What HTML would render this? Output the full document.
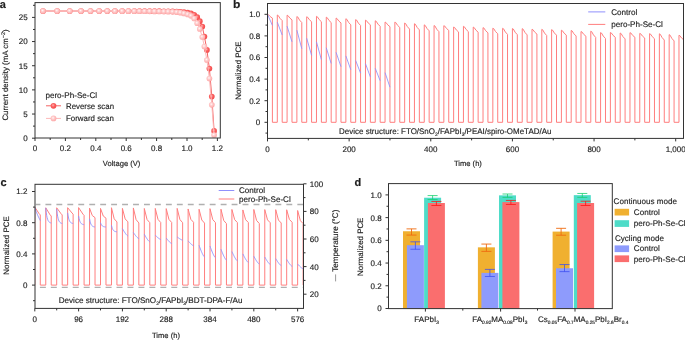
<!DOCTYPE html>
<html><head><meta charset="utf-8"><style>
html,body{margin:0;padding:0;background:#fff;width:685px;height:340px;overflow:hidden}
svg{display:block;will-change:transform}
svg text{font-family:"Liberation Sans",sans-serif;text-rendering:geometricPrecision;stroke:#1e1e1e;stroke-width:0.15px}
</style></head><body>
<svg width="685" height="340" viewBox="0 0 685 340">
<rect x="0" y="0" width="685" height="340" fill="#fff"/>
<line x1="32.00" y1="138.20" x2="35.00" y2="138.20" stroke="#333" stroke-width="1.0" />
<text x="27.60" y="141.10" font-size="8.0" text-anchor="end" fill="#1e1e1e" font-weight="normal" >0</text>
<line x1="32.00" y1="114.04" x2="35.00" y2="114.04" stroke="#333" stroke-width="1.0" />
<text x="27.60" y="116.94" font-size="8.0" text-anchor="end" fill="#1e1e1e" font-weight="normal" >5</text>
<line x1="32.00" y1="89.88" x2="35.00" y2="89.88" stroke="#333" stroke-width="1.0" />
<text x="27.60" y="92.78" font-size="8.0" text-anchor="end" fill="#1e1e1e" font-weight="normal" >10</text>
<line x1="32.00" y1="65.72" x2="35.00" y2="65.72" stroke="#333" stroke-width="1.0" />
<text x="27.60" y="68.62" font-size="8.0" text-anchor="end" fill="#1e1e1e" font-weight="normal" >15</text>
<line x1="32.00" y1="41.56" x2="35.00" y2="41.56" stroke="#333" stroke-width="1.0" />
<text x="27.60" y="44.46" font-size="8.0" text-anchor="end" fill="#1e1e1e" font-weight="normal" >20</text>
<line x1="32.00" y1="17.40" x2="35.00" y2="17.40" stroke="#333" stroke-width="1.0" />
<text x="27.60" y="20.30" font-size="8.0" text-anchor="end" fill="#1e1e1e" font-weight="normal" >25</text>
<line x1="33.00" y1="126.12" x2="35.00" y2="126.12" stroke="#333" stroke-width="1.0" />
<line x1="33.00" y1="101.96" x2="35.00" y2="101.96" stroke="#333" stroke-width="1.0" />
<line x1="33.00" y1="77.80" x2="35.00" y2="77.80" stroke="#333" stroke-width="1.0" />
<line x1="33.00" y1="53.64" x2="35.00" y2="53.64" stroke="#333" stroke-width="1.0" />
<line x1="33.00" y1="29.48" x2="35.00" y2="29.48" stroke="#333" stroke-width="1.0" />
<line x1="33.00" y1="5.32" x2="35.00" y2="5.32" stroke="#333" stroke-width="1.0" />
<line x1="35.00" y1="138.00" x2="35.00" y2="141.00" stroke="#333" stroke-width="1.0" />
<text x="35.00" y="150.90" font-size="8.0" text-anchor="middle" fill="#1e1e1e" font-weight="normal" >0</text>
<line x1="65.40" y1="138.00" x2="65.40" y2="141.00" stroke="#333" stroke-width="1.0" />
<text x="65.40" y="150.90" font-size="8.0" text-anchor="middle" fill="#1e1e1e" font-weight="normal" >0.2</text>
<line x1="95.80" y1="138.00" x2="95.80" y2="141.00" stroke="#333" stroke-width="1.0" />
<text x="95.80" y="150.90" font-size="8.0" text-anchor="middle" fill="#1e1e1e" font-weight="normal" >0.4</text>
<line x1="126.20" y1="138.00" x2="126.20" y2="141.00" stroke="#333" stroke-width="1.0" />
<text x="126.20" y="150.90" font-size="8.0" text-anchor="middle" fill="#1e1e1e" font-weight="normal" >0.6</text>
<line x1="156.60" y1="138.00" x2="156.60" y2="141.00" stroke="#333" stroke-width="1.0" />
<text x="156.60" y="150.90" font-size="8.0" text-anchor="middle" fill="#1e1e1e" font-weight="normal" >0.8</text>
<line x1="187.00" y1="138.00" x2="187.00" y2="141.00" stroke="#333" stroke-width="1.0" />
<text x="187.00" y="150.90" font-size="8.0" text-anchor="middle" fill="#1e1e1e" font-weight="normal" >1.0</text>
<line x1="217.40" y1="138.00" x2="217.40" y2="141.00" stroke="#333" stroke-width="1.0" />
<text x="217.40" y="150.90" font-size="8.0" text-anchor="middle" fill="#1e1e1e" font-weight="normal" >1.2</text>
<line x1="50.20" y1="138.00" x2="50.20" y2="140.00" stroke="#333" stroke-width="1.0" />
<line x1="80.60" y1="138.00" x2="80.60" y2="140.00" stroke="#333" stroke-width="1.0" />
<line x1="111.00" y1="138.00" x2="111.00" y2="140.00" stroke="#333" stroke-width="1.0" />
<line x1="141.40" y1="138.00" x2="141.40" y2="140.00" stroke="#333" stroke-width="1.0" />
<line x1="171.80" y1="138.00" x2="171.80" y2="140.00" stroke="#333" stroke-width="1.0" />
<line x1="202.20" y1="138.00" x2="202.20" y2="140.00" stroke="#333" stroke-width="1.0" />
<text x="121.60" y="165.90" font-size="7.6" text-anchor="middle" fill="#1e1e1e" font-weight="normal" >Voltage (V)</text>
<text transform="translate(7.90 75.00) rotate(-90) scale(1.000 1)" font-size="7.9" text-anchor="middle" fill="#1e1e1e">Current density (mA cm<tspan font-size="5.4" dy="-2.8">−2</tspan><tspan dy="2.8">)</tspan></text>
<defs><radialGradient id="gR" cx="0.42" cy="0.4" r="0.62"><stop offset="0" stop-color="#ffb4b4"/><stop offset="0.45" stop-color="#fb6262"/><stop offset="1" stop-color="#f24a4a"/></radialGradient><radialGradient id="gF" cx="0.42" cy="0.4" r="0.62"><stop offset="0" stop-color="#fff8f8"/><stop offset="0.4" stop-color="#ffcccc"/><stop offset="1" stop-color="#fda6a6"/></radialGradient></defs>
<polyline points="43.00,11.01 57.20,11.02 69.70,11.03 81.00,11.04 90.50,11.04 99.20,11.05 107.30,11.06 114.90,11.07 122.20,11.08 128.40,11.09 134.30,11.10 139.50,11.11 144.60,11.12 149.70,11.14 154.50,11.16 159.20,11.19 163.90,11.23 168.20,11.26 172.60,11.32 176.70,11.49 180.40,11.73 184.00,12.08 187.70,12.62 191.00,13.40 194.20,14.80 197.20,17.20 199.80,21.20 202.30,26.50 204.40,36.50 206.90,49.90 209.40,68.50 211.80,96.60 214.10,130.90" fill="none" stroke="#f46464" stroke-width="1.0" stroke-linejoin="round" />
<circle cx="43.00" cy="11.01" r="2.85" fill="url(#gR)"/>
<circle cx="57.20" cy="11.02" r="2.85" fill="url(#gR)"/>
<circle cx="69.70" cy="11.03" r="2.85" fill="url(#gR)"/>
<circle cx="81.00" cy="11.04" r="2.85" fill="url(#gR)"/>
<circle cx="90.50" cy="11.04" r="2.85" fill="url(#gR)"/>
<circle cx="99.20" cy="11.05" r="2.85" fill="url(#gR)"/>
<circle cx="107.30" cy="11.06" r="2.85" fill="url(#gR)"/>
<circle cx="114.90" cy="11.07" r="2.85" fill="url(#gR)"/>
<circle cx="122.20" cy="11.08" r="2.85" fill="url(#gR)"/>
<circle cx="128.40" cy="11.09" r="2.85" fill="url(#gR)"/>
<circle cx="134.30" cy="11.10" r="2.85" fill="url(#gR)"/>
<circle cx="139.50" cy="11.11" r="2.85" fill="url(#gR)"/>
<circle cx="144.60" cy="11.12" r="2.85" fill="url(#gR)"/>
<circle cx="149.70" cy="11.14" r="2.85" fill="url(#gR)"/>
<circle cx="154.50" cy="11.16" r="2.85" fill="url(#gR)"/>
<circle cx="159.20" cy="11.19" r="2.85" fill="url(#gR)"/>
<circle cx="163.90" cy="11.23" r="2.85" fill="url(#gR)"/>
<circle cx="168.20" cy="11.26" r="2.85" fill="url(#gR)"/>
<circle cx="172.60" cy="11.32" r="2.85" fill="url(#gR)"/>
<circle cx="176.70" cy="11.49" r="2.85" fill="url(#gR)"/>
<circle cx="180.40" cy="11.73" r="2.85" fill="url(#gR)"/>
<circle cx="184.00" cy="12.08" r="2.85" fill="url(#gR)"/>
<circle cx="187.70" cy="12.62" r="2.85" fill="url(#gR)"/>
<circle cx="191.00" cy="13.40" r="2.85" fill="url(#gR)"/>
<circle cx="194.20" cy="14.80" r="2.85" fill="url(#gR)"/>
<circle cx="197.20" cy="17.20" r="2.85" fill="url(#gR)"/>
<circle cx="199.80" cy="21.20" r="2.85" fill="url(#gR)"/>
<circle cx="202.30" cy="26.50" r="2.85" fill="url(#gR)"/>
<circle cx="204.40" cy="36.50" r="2.85" fill="url(#gR)"/>
<circle cx="206.90" cy="49.90" r="2.85" fill="url(#gR)"/>
<circle cx="209.40" cy="68.50" r="2.85" fill="url(#gR)"/>
<circle cx="211.80" cy="96.60" r="2.85" fill="url(#gR)"/>
<circle cx="214.10" cy="130.90" r="2.85" fill="url(#gR)"/>
<polyline points="43.00,11.01 57.20,11.04 69.70,11.05 81.00,11.07 90.50,11.08 99.20,11.10 107.30,11.12 114.90,11.14 122.20,11.16 128.40,11.18 134.30,11.20 139.50,11.23 144.60,11.27 149.70,11.33 154.50,11.39 159.20,11.48 163.90,11.58 168.20,11.70 172.60,11.85 176.70,12.21 180.40,12.69 184.00,13.40 187.70,14.41 191.00,15.80 194.20,18.50 197.20,23.20 199.80,29.00 202.30,37.00 204.40,46.50 206.90,60.00 209.40,78.50 211.80,104.80 214.10,135.00" fill="none" stroke="#fdb8b8" stroke-width="1.0" stroke-linejoin="round" />
<circle cx="43.00" cy="11.01" r="2.85" fill="url(#gF)"/>
<circle cx="57.20" cy="11.04" r="2.85" fill="url(#gF)"/>
<circle cx="69.70" cy="11.05" r="2.85" fill="url(#gF)"/>
<circle cx="81.00" cy="11.07" r="2.85" fill="url(#gF)"/>
<circle cx="90.50" cy="11.08" r="2.85" fill="url(#gF)"/>
<circle cx="99.20" cy="11.10" r="2.85" fill="url(#gF)"/>
<circle cx="107.30" cy="11.12" r="2.85" fill="url(#gF)"/>
<circle cx="114.90" cy="11.14" r="2.85" fill="url(#gF)"/>
<circle cx="122.20" cy="11.16" r="2.85" fill="url(#gF)"/>
<circle cx="128.40" cy="11.18" r="2.85" fill="url(#gF)"/>
<circle cx="134.30" cy="11.20" r="2.85" fill="url(#gF)"/>
<circle cx="139.50" cy="11.23" r="2.85" fill="url(#gF)"/>
<circle cx="144.60" cy="11.27" r="2.85" fill="url(#gF)"/>
<circle cx="149.70" cy="11.33" r="2.85" fill="url(#gF)"/>
<circle cx="154.50" cy="11.39" r="2.85" fill="url(#gF)"/>
<circle cx="159.20" cy="11.48" r="2.85" fill="url(#gF)"/>
<circle cx="163.90" cy="11.58" r="2.85" fill="url(#gF)"/>
<circle cx="168.20" cy="11.70" r="2.85" fill="url(#gF)"/>
<circle cx="172.60" cy="11.85" r="2.85" fill="url(#gF)"/>
<circle cx="176.70" cy="12.21" r="2.85" fill="url(#gF)"/>
<circle cx="180.40" cy="12.69" r="2.85" fill="url(#gF)"/>
<circle cx="184.00" cy="13.40" r="2.85" fill="url(#gF)"/>
<circle cx="187.70" cy="14.41" r="2.85" fill="url(#gF)"/>
<circle cx="191.00" cy="15.80" r="2.85" fill="url(#gF)"/>
<circle cx="194.20" cy="18.50" r="2.85" fill="url(#gF)"/>
<circle cx="197.20" cy="23.20" r="2.85" fill="url(#gF)"/>
<circle cx="199.80" cy="29.00" r="2.85" fill="url(#gF)"/>
<circle cx="202.30" cy="37.00" r="2.85" fill="url(#gF)"/>
<circle cx="204.40" cy="46.50" r="2.85" fill="url(#gF)"/>
<circle cx="206.90" cy="60.00" r="2.85" fill="url(#gF)"/>
<circle cx="209.40" cy="78.50" r="2.85" fill="url(#gF)"/>
<circle cx="211.80" cy="104.80" r="2.85" fill="url(#gF)"/>
<circle cx="214.10" cy="135.00" r="2.85" fill="url(#gF)"/>
<rect x="35.00" y="2.60" width="185.30" height="135.40" fill="none" stroke="#333" stroke-width="1.0"/>
<text x="45.40" y="98.00" font-size="8.1" text-anchor="start" fill="#1e1e1e" font-weight="normal" >pero-Ph-Se-Cl</text>
<line x1="46.00" y1="105.80" x2="61.00" y2="105.80" stroke="#f46464" stroke-width="1.0" />
<circle cx="53.5" cy="105.8" r="2.85" fill="url(#gR)"/>
<text transform="translate(66.00 108.70) scale(0.970 1)" font-size="8.1" text-anchor="start" fill="#1e1e1e" font-weight="normal" >Reverse scan</text>
<line x1="46.00" y1="118.40" x2="61.00" y2="118.40" stroke="#fdb8b8" stroke-width="1.0" />
<circle cx="53.5" cy="118.4" r="2.85" fill="url(#gF)"/>
<text transform="translate(66.00 121.30) scale(0.975 1)" font-size="8.1" text-anchor="start" fill="#1e1e1e" font-weight="normal" >Forward scan</text>
<text x="-0.20" y="7.70" font-size="11" text-anchor="start" fill="#1e1e1e" font-weight="bold" stroke="#111" stroke-width="0.5">a</text>
<line x1="264.50" y1="122.30" x2="267.50" y2="122.30" stroke="#333" stroke-width="1.0" />
<text x="260.30" y="125.20" font-size="8.0" text-anchor="end" fill="#1e1e1e" font-weight="normal" >0</text>
<line x1="264.50" y1="100.70" x2="267.50" y2="100.70" stroke="#333" stroke-width="1.0" />
<text x="260.30" y="103.60" font-size="8.0" text-anchor="end" fill="#1e1e1e" font-weight="normal" >0.2</text>
<line x1="264.50" y1="79.10" x2="267.50" y2="79.10" stroke="#333" stroke-width="1.0" />
<text x="260.30" y="82.00" font-size="8.0" text-anchor="end" fill="#1e1e1e" font-weight="normal" >0.4</text>
<line x1="264.50" y1="57.50" x2="267.50" y2="57.50" stroke="#333" stroke-width="1.0" />
<text x="260.30" y="60.40" font-size="8.0" text-anchor="end" fill="#1e1e1e" font-weight="normal" >0.6</text>
<line x1="264.50" y1="35.90" x2="267.50" y2="35.90" stroke="#333" stroke-width="1.0" />
<text x="260.30" y="38.80" font-size="8.0" text-anchor="end" fill="#1e1e1e" font-weight="normal" >0.8</text>
<line x1="264.50" y1="14.30" x2="267.50" y2="14.30" stroke="#333" stroke-width="1.0" />
<text x="260.30" y="17.20" font-size="8.0" text-anchor="end" fill="#1e1e1e" font-weight="normal" >1.0</text>
<line x1="265.50" y1="133.10" x2="267.50" y2="133.10" stroke="#333" stroke-width="1.0" />
<line x1="265.50" y1="111.50" x2="267.50" y2="111.50" stroke="#333" stroke-width="1.0" />
<line x1="265.50" y1="89.90" x2="267.50" y2="89.90" stroke="#333" stroke-width="1.0" />
<line x1="265.50" y1="68.30" x2="267.50" y2="68.30" stroke="#333" stroke-width="1.0" />
<line x1="265.50" y1="46.70" x2="267.50" y2="46.70" stroke="#333" stroke-width="1.0" />
<line x1="265.50" y1="25.10" x2="267.50" y2="25.10" stroke="#333" stroke-width="1.0" />
<line x1="267.50" y1="138.40" x2="267.50" y2="141.40" stroke="#333" stroke-width="1.0" />
<text x="267.50" y="152.40" font-size="8.0" text-anchor="middle" fill="#1e1e1e" font-weight="normal" >0</text>
<line x1="349.14" y1="138.40" x2="349.14" y2="141.40" stroke="#333" stroke-width="1.0" />
<text x="349.14" y="152.40" font-size="8.0" text-anchor="middle" fill="#1e1e1e" font-weight="normal" >200</text>
<line x1="430.78" y1="138.40" x2="430.78" y2="141.40" stroke="#333" stroke-width="1.0" />
<text x="430.78" y="152.40" font-size="8.0" text-anchor="middle" fill="#1e1e1e" font-weight="normal" >400</text>
<line x1="512.42" y1="138.40" x2="512.42" y2="141.40" stroke="#333" stroke-width="1.0" />
<text x="512.42" y="152.40" font-size="8.0" text-anchor="middle" fill="#1e1e1e" font-weight="normal" >600</text>
<line x1="594.06" y1="138.40" x2="594.06" y2="141.40" stroke="#333" stroke-width="1.0" />
<text x="594.06" y="152.40" font-size="8.0" text-anchor="middle" fill="#1e1e1e" font-weight="normal" >800</text>
<line x1="675.70" y1="138.40" x2="675.70" y2="141.40" stroke="#333" stroke-width="1.0" />
<text x="675.70" y="152.40" font-size="8.0" text-anchor="middle" fill="#1e1e1e" font-weight="normal" >1,000</text>
<line x1="308.32" y1="138.40" x2="308.32" y2="140.40" stroke="#333" stroke-width="1.0" />
<line x1="389.96" y1="138.40" x2="389.96" y2="140.40" stroke="#333" stroke-width="1.0" />
<line x1="471.60" y1="138.40" x2="471.60" y2="140.40" stroke="#333" stroke-width="1.0" />
<line x1="553.24" y1="138.40" x2="553.24" y2="140.40" stroke="#333" stroke-width="1.0" />
<line x1="634.88" y1="138.40" x2="634.88" y2="140.40" stroke="#333" stroke-width="1.0" />
<text x="467.90" y="166.30" font-size="7.6" text-anchor="middle" fill="#1e1e1e" font-weight="normal" >Time (h)</text>
<text transform="translate(241.00 70.60) rotate(-90) scale(1.000 1)" font-size="7.9" text-anchor="middle" fill="#1e1e1e">Normalized PCE</text>
<clipPath id="cb"><rect x="267.5" y="3.5" width="416.0" height="134.9"/></clipPath>
<polyline points="267.50,122.30 267.50,14.30 268.38,14.60 270.19,16.57 272.40,18.08 272.40,122.30 277.30,122.30 277.30,122.30 277.30,15.01 278.18,15.45 279.99,18.36 282.20,20.59 282.20,122.30 287.09,122.30 287.09,122.30 287.09,15.22 287.98,15.59 289.79,18.01 291.99,19.87 291.99,122.30 296.89,122.30 296.89,122.30 296.89,16.55 297.77,17.03 299.58,20.14 301.79,22.53 301.79,122.30 306.69,122.30 306.69,122.30 306.69,16.77 307.57,17.17 309.38,19.74 311.59,21.71 311.59,122.30 316.48,122.30 316.48,122.30 316.48,16.36 317.37,16.79 319.18,19.57 321.38,21.71 321.38,122.30 326.28,122.30 326.28,122.30 326.28,17.21 327.16,17.64 328.97,20.43 331.18,22.57 331.18,122.30 336.08,122.30 336.08,122.30 336.08,18.12 336.96,18.50 338.77,20.99 340.98,22.91 340.98,122.30 345.87,122.30 345.87,122.30 345.87,18.77 346.76,19.25 348.57,22.39 350.77,24.81 350.77,122.30 355.67,122.30 355.67,122.30 355.67,19.62 356.55,20.09 358.37,23.11 360.57,25.44 360.57,122.30 365.47,122.30 365.47,122.30 365.47,20.17 366.35,20.54 368.16,22.95 370.37,24.81 370.37,122.30 375.26,122.30 375.26,122.30 375.26,20.79 376.15,21.23 377.96,24.12 380.16,26.35 380.16,122.30 385.06,122.30 385.06,122.30 385.06,22.12 385.94,22.48 387.76,24.87 389.96,26.71 389.96,122.30 394.86,122.30 394.86,122.30 394.86,22.11 395.74,22.53 397.55,25.32 399.76,27.46 399.76,122.30 404.66,122.30 404.66,122.30 404.66,23.02 405.54,23.50 407.35,26.65 409.55,29.07 409.55,122.30 414.45,122.30 414.45,122.30 414.45,23.74 415.33,24.23 417.15,27.42 419.35,29.87 419.35,122.30 424.25,122.30 424.25,122.30 424.25,24.88 425.13,25.35 426.94,28.43 429.15,30.80 429.15,122.30 434.05,122.30 434.05,122.30 434.05,25.53 434.93,26.02 436.74,29.22 438.94,31.68 438.94,122.30 443.84,122.30 443.84,122.30 443.84,25.69 444.72,26.07 446.54,28.51 448.74,30.39 448.74,122.30 453.64,122.30 453.64,122.30 453.64,27.02 454.52,27.41 456.33,29.97 458.54,31.93 458.54,122.30 463.44,122.30 463.44,122.30 463.44,26.32 464.32,26.74 466.13,29.49 468.33,31.61 468.33,122.30 473.23,122.30 473.23,122.30 473.23,27.13 474.11,27.53 475.93,30.16 478.13,32.18 478.13,122.30 483.03,122.30 483.03,122.30 483.03,27.65 483.91,28.07 485.72,30.77 487.93,32.85 487.93,122.30 492.83,122.30 492.83,122.30 492.83,28.22 493.71,28.67 495.52,31.55 497.72,33.77 497.72,122.30 502.62,122.30 502.62,122.30 502.62,28.29 503.50,28.78 505.32,31.95 507.52,34.39 507.52,122.30 512.42,122.30 512.42,122.30 512.42,28.54 513.30,29.03 515.11,32.22 517.32,34.68 517.32,122.30 522.22,122.30 522.22,122.30 522.22,28.66 523.10,29.16 524.91,32.40 527.12,34.90 527.12,122.30 532.01,122.30 532.01,122.30 532.01,29.24 532.90,29.63 534.71,32.13 536.91,34.06 536.91,122.30 541.81,122.30 541.81,122.30 541.81,29.34 542.69,29.84 544.50,33.06 546.71,35.54 546.71,122.30 551.61,122.30 551.61,122.30 551.61,29.63 552.49,30.07 554.30,32.94 556.51,35.15 556.51,122.30 561.40,122.30 561.40,122.30 561.40,30.22 562.29,30.61 564.10,33.16 566.30,35.12 566.30,122.30 571.20,122.30 571.20,122.30 571.20,30.45 572.08,30.89 573.89,33.76 576.10,35.98 576.10,122.30 581.00,122.30 581.00,122.30 581.00,31.53 581.88,31.91 583.69,34.32 585.90,36.18 585.90,122.30 590.79,122.30 590.79,122.30 590.79,31.18 591.68,31.68 593.49,34.92 595.69,37.42 595.69,122.30 600.59,122.30 600.59,122.30 600.59,32.55 601.47,33.02 603.29,36.10 605.49,38.46 605.49,122.30 610.39,122.30 610.39,122.30 610.39,32.51 611.27,32.89 613.08,35.38 615.29,37.30 615.29,122.30 620.18,122.30 620.18,122.30 620.18,33.04 621.07,33.50 622.88,36.55 625.08,38.90 625.08,122.30 629.98,122.30 629.98,122.30 629.98,32.66 630.86,33.03 632.68,35.43 634.88,37.28 634.88,122.30 639.78,122.30 639.78,122.30 639.78,33.38 640.66,33.74 642.47,36.14 644.68,37.99 644.68,122.30 649.58,122.30 649.58,122.30 649.58,33.62 650.46,34.03 652.27,36.68 654.47,38.73 654.47,122.30 659.37,122.30 659.37,122.30 659.37,33.79 660.25,34.28 662.07,37.52 664.27,40.02 664.27,122.30 669.17,122.30 669.17,122.30 669.17,34.65 670.05,35.15 671.86,38.41 674.07,40.91 674.07,122.30 678.97,122.30 678.97,122.30 678.97,35.28 679.85,35.66 681.66,38.08 683.86,39.95" fill="none" stroke="#ff7e7e" stroke-width="1.0" stroke-linejoin="round" clip-path="url(#cb)"/>
<polyline points="267.50,14.30 272.40,25.42" fill="none" stroke="#9090fc" stroke-width="0.85" stroke-linejoin="round" />
<polyline points="277.30,22.18 282.20,35.04" fill="none" stroke="#9090fc" stroke-width="0.85" stroke-linejoin="round" />
<polyline points="287.09,26.18 291.99,41.84" fill="none" stroke="#9090fc" stroke-width="0.85" stroke-linejoin="round" />
<polyline points="296.89,30.18 301.79,48.75" fill="none" stroke="#9090fc" stroke-width="0.85" stroke-linejoin="round" />
<polyline points="306.69,38.17 311.59,55.45" fill="none" stroke="#9090fc" stroke-width="0.85" stroke-linejoin="round" />
<polyline points="316.48,41.84 321.38,59.66" fill="none" stroke="#9090fc" stroke-width="0.85" stroke-linejoin="round" />
<polyline points="326.28,47.78 331.18,63.44" fill="none" stroke="#9090fc" stroke-width="0.85" stroke-linejoin="round" />
<polyline points="336.08,52.32 340.98,66.68" fill="none" stroke="#9090fc" stroke-width="0.85" stroke-linejoin="round" />
<polyline points="345.87,55.88 350.77,69.70" fill="none" stroke="#9090fc" stroke-width="0.85" stroke-linejoin="round" />
<polyline points="355.67,60.52 360.57,73.16" fill="none" stroke="#9090fc" stroke-width="0.85" stroke-linejoin="round" />
<polyline points="365.47,63.66 370.37,76.94" fill="none" stroke="#9090fc" stroke-width="0.85" stroke-linejoin="round" />
<polyline points="375.26,68.30 380.16,80.72" fill="none" stroke="#9090fc" stroke-width="0.85" stroke-linejoin="round" />
<polyline points="385.06,72.62 389.96,87.20" fill="none" stroke="#9090fc" stroke-width="0.85" stroke-linejoin="round" />
<rect x="267.50" y="3.50" width="416.00" height="134.90" fill="none" stroke="#333" stroke-width="1.0"/>
<line x1="588.20" y1="11.90" x2="605.30" y2="11.90" stroke="#9090fc" stroke-width="1.0" />
<text x="611.20" y="14.80" font-size="8.1" text-anchor="start" fill="#1e1e1e" font-weight="normal" >Control</text>
<line x1="588.20" y1="24.40" x2="605.30" y2="24.40" stroke="#ff7e7e" stroke-width="1.0" />
<text x="611.20" y="27.30" font-size="8.1" text-anchor="start" fill="#1e1e1e" font-weight="normal" >pero-Ph-Se-Cl</text>
<text transform="translate(339.10 134.30) scale(0.984 1)" font-size="8.1" text-anchor="start" fill="#1e1e1e" font-weight="normal" >Device structure: FTO/SnO<tspan font-size="5" dy="1.7">2</tspan><tspan dy="-1.7">/FAPbI</tspan><tspan font-size="5" dy="1.7">3</tspan><tspan dy="-1.7">/PEAI/spiro-OMeTAD/Au</tspan></text>
<text x="232.90" y="7.70" font-size="11" text-anchor="start" fill="#1e1e1e" font-weight="bold" transform="translate(232.9 7.7) scale(1.1 1) translate(-232.9 -7.7)" stroke="#111" stroke-width="0.5">b</text>
<line x1="32.00" y1="285.10" x2="35.00" y2="285.10" stroke="#333" stroke-width="1.0" />
<text x="27.40" y="288.00" font-size="8.0" text-anchor="end" fill="#1e1e1e" font-weight="normal" >0</text>
<line x1="32.00" y1="253.90" x2="35.00" y2="253.90" stroke="#333" stroke-width="1.0" />
<text x="27.40" y="256.80" font-size="8.0" text-anchor="end" fill="#1e1e1e" font-weight="normal" >0.4</text>
<line x1="32.00" y1="222.70" x2="35.00" y2="222.70" stroke="#333" stroke-width="1.0" />
<text x="27.40" y="225.60" font-size="8.0" text-anchor="end" fill="#1e1e1e" font-weight="normal" >0.8</text>
<line x1="32.00" y1="191.50" x2="35.00" y2="191.50" stroke="#333" stroke-width="1.0" />
<text x="27.40" y="194.40" font-size="8.0" text-anchor="end" fill="#1e1e1e" font-weight="normal" >1.2</text>
<line x1="33.00" y1="300.70" x2="35.00" y2="300.70" stroke="#333" stroke-width="1.0" />
<line x1="33.00" y1="269.50" x2="35.00" y2="269.50" stroke="#333" stroke-width="1.0" />
<line x1="33.00" y1="238.30" x2="35.00" y2="238.30" stroke="#333" stroke-width="1.0" />
<line x1="33.00" y1="207.10" x2="35.00" y2="207.10" stroke="#333" stroke-width="1.0" />
<line x1="34.80" y1="308.40" x2="34.80" y2="311.40" stroke="#333" stroke-width="1.0" />
<text x="34.80" y="321.60" font-size="8.0" text-anchor="middle" fill="#1e1e1e" font-weight="normal" >0</text>
<line x1="78.60" y1="308.40" x2="78.60" y2="311.40" stroke="#333" stroke-width="1.0" />
<text x="78.60" y="321.60" font-size="8.0" text-anchor="middle" fill="#1e1e1e" font-weight="normal" >96</text>
<line x1="122.41" y1="308.40" x2="122.41" y2="311.40" stroke="#333" stroke-width="1.0" />
<text x="122.41" y="321.60" font-size="8.0" text-anchor="middle" fill="#1e1e1e" font-weight="normal" >192</text>
<line x1="166.21" y1="308.40" x2="166.21" y2="311.40" stroke="#333" stroke-width="1.0" />
<text x="166.21" y="321.60" font-size="8.0" text-anchor="middle" fill="#1e1e1e" font-weight="normal" >288</text>
<line x1="210.02" y1="308.40" x2="210.02" y2="311.40" stroke="#333" stroke-width="1.0" />
<text x="210.02" y="321.60" font-size="8.0" text-anchor="middle" fill="#1e1e1e" font-weight="normal" >384</text>
<line x1="253.82" y1="308.40" x2="253.82" y2="311.40" stroke="#333" stroke-width="1.0" />
<text x="253.82" y="321.60" font-size="8.0" text-anchor="middle" fill="#1e1e1e" font-weight="normal" >480</text>
<line x1="297.63" y1="308.40" x2="297.63" y2="311.40" stroke="#333" stroke-width="1.0" />
<text x="297.63" y="321.60" font-size="8.0" text-anchor="middle" fill="#1e1e1e" font-weight="normal" >576</text>
<line x1="56.70" y1="308.40" x2="56.70" y2="310.40" stroke="#333" stroke-width="1.0" />
<line x1="100.51" y1="308.40" x2="100.51" y2="310.40" stroke="#333" stroke-width="1.0" />
<line x1="144.31" y1="308.40" x2="144.31" y2="310.40" stroke="#333" stroke-width="1.0" />
<line x1="188.12" y1="308.40" x2="188.12" y2="310.40" stroke="#333" stroke-width="1.0" />
<line x1="231.92" y1="308.40" x2="231.92" y2="310.40" stroke="#333" stroke-width="1.0" />
<line x1="275.73" y1="308.40" x2="275.73" y2="310.40" stroke="#333" stroke-width="1.0" />
<line x1="303.50" y1="294.20" x2="306.50" y2="294.20" stroke="#333" stroke-width="1.0" />
<text x="309.80" y="297.10" font-size="8.0" text-anchor="start" fill="#1e1e1e" font-weight="normal" >20</text>
<line x1="303.50" y1="266.60" x2="306.50" y2="266.60" stroke="#333" stroke-width="1.0" />
<text x="309.80" y="269.50" font-size="8.0" text-anchor="start" fill="#1e1e1e" font-weight="normal" >40</text>
<line x1="303.50" y1="239.00" x2="306.50" y2="239.00" stroke="#333" stroke-width="1.0" />
<text x="309.80" y="241.90" font-size="8.0" text-anchor="start" fill="#1e1e1e" font-weight="normal" >60</text>
<line x1="303.50" y1="211.40" x2="306.50" y2="211.40" stroke="#333" stroke-width="1.0" />
<text x="309.80" y="214.30" font-size="8.0" text-anchor="start" fill="#1e1e1e" font-weight="normal" >80</text>
<line x1="303.50" y1="183.80" x2="306.50" y2="183.80" stroke="#333" stroke-width="1.0" />
<text x="309.80" y="186.70" font-size="8.0" text-anchor="start" fill="#1e1e1e" font-weight="normal" >100</text>
<line x1="303.50" y1="280.40" x2="305.50" y2="280.40" stroke="#333" stroke-width="1.0" />
<line x1="303.50" y1="252.80" x2="305.50" y2="252.80" stroke="#333" stroke-width="1.0" />
<line x1="303.50" y1="225.20" x2="305.50" y2="225.20" stroke="#333" stroke-width="1.0" />
<line x1="303.50" y1="197.60" x2="305.50" y2="197.60" stroke="#333" stroke-width="1.0" />
<text x="166.00" y="338.40" font-size="7.6" text-anchor="middle" fill="#1e1e1e" font-weight="normal" >Time (h)</text>
<text transform="translate(8.80 245.50) rotate(-90) scale(1.000 1)" font-size="7.9" text-anchor="middle" fill="#1e1e1e">Normalized PCE</text>
<text transform="translate(337.80 240.70) rotate(-90) scale(1.000 1)" font-size="8.1" text-anchor="middle" fill="#1e1e1e">Temperature (°C)</text>
<line x1="335.60" y1="274.40" x2="335.60" y2="281.40" stroke="#999" stroke-width="1.0" />
<path d="M35.80,204.50H40.38M39.88,287.30H45.85M45.45,204.50H51.33M50.83,287.30H56.80M56.40,204.50H62.28M61.78,287.30H67.75M67.35,204.50H73.23M72.73,287.30H78.70M78.30,204.50H84.18M83.68,287.30H89.66M89.26,204.50H95.13M94.63,287.30H100.61M100.21,204.50H106.08M105.58,287.30H111.56M111.16,204.50H117.03M116.53,287.30H122.51M122.11,204.50H127.99M127.49,287.30H133.46M133.06,204.50H138.94M138.44,287.30H144.41M144.01,204.50H149.89M149.39,287.30H155.36M154.96,204.50H160.84M160.34,287.30H166.31M165.91,204.50H171.79M171.29,287.30H177.27M176.87,204.50H182.74M182.24,287.30H188.22M187.82,204.50H193.69M193.19,287.30H199.17M198.77,204.50H204.64M204.14,287.30H210.12M209.72,204.50H215.59M215.09,287.30H221.07M220.67,204.50H226.55M226.05,287.30H232.02M231.62,204.50H237.50M237.00,287.30H242.97M242.57,204.50H248.45M247.95,287.30H253.92M253.52,204.50H259.40M258.90,287.30H264.88M264.48,204.50H270.35M269.85,287.30H275.83M275.43,204.50H281.30M280.80,287.30H286.78M286.38,204.50H292.25M291.75,287.30H297.73M297.33,204.50H303.20M302.70,287.30H303.50" stroke="#b0b0b0" stroke-width="1.3" fill="none"/>
<clipPath id="cc"><rect x="35.0" y="184.3" width="268.5" height="124.1"/></clipPath>
<polyline points="34.80,285.10 34.80,207.10 39.18,213.81 40.28,214.90 40.28,285.10 45.75,285.10 45.75,285.10 45.75,207.81 50.13,214.90 51.23,215.99 51.23,285.10 56.70,285.10 56.70,285.10 56.70,207.77 61.08,213.81 62.18,214.90 62.18,285.10 67.65,285.10 67.65,285.10 67.65,207.69 72.03,213.03 73.13,214.12 73.13,285.10 78.60,285.10 78.60,285.10 78.60,207.62 82.99,214.20 84.08,215.29 84.08,285.10 89.56,285.10 89.56,285.10 89.56,208.16 92.29,215.55 95.03,217.63 95.03,285.10 100.51,285.10 100.51,285.10 100.51,208.39 103.25,216.02 105.98,218.18 105.98,285.10 111.46,285.10 111.46,285.10 111.46,207.73 114.20,218.80 116.93,221.92 116.93,285.10 122.41,285.10 122.41,285.10 122.41,208.37 125.15,218.88 127.89,221.84 127.89,285.10 133.36,285.10 133.36,285.10 133.36,207.94 136.10,219.63 138.84,222.93 138.84,285.10 144.31,285.10 144.31,285.10 144.31,208.46 147.05,219.54 149.79,222.66 149.79,285.10 155.26,285.10 155.26,285.10 155.26,208.41 158.00,219.42 160.74,222.52 160.74,285.10 166.21,285.10 166.21,285.10 166.21,208.60 168.95,219.42 171.69,222.48 171.69,285.10 177.17,285.10 177.17,285.10 177.17,208.36 179.90,219.54 182.64,222.69 182.64,285.10 188.12,285.10 188.12,285.10 188.12,208.96 190.85,219.36 193.59,222.29 193.59,285.10 199.07,285.10 199.07,285.10 199.07,209.26 201.81,220.03 204.54,223.07 204.54,285.10 210.02,285.10 210.02,285.10 210.02,208.68 212.76,219.58 215.49,222.66 215.49,285.10 220.97,285.10 220.97,285.10 220.97,209.20 223.71,220.44 226.45,223.61 226.45,285.10 231.92,285.10 231.92,285.10 231.92,209.44 234.66,219.67 237.40,222.55 237.40,285.10 242.87,285.10 242.87,285.10 242.87,209.93 245.61,219.72 248.35,222.48 248.35,285.10 253.82,285.10 253.82,285.10 253.82,209.47 256.56,220.43 259.30,223.52 259.30,285.10 264.78,285.10 264.78,285.10 264.78,209.59 267.51,219.87 270.25,222.76 270.25,285.10 275.73,285.10 275.73,285.10 275.73,209.66 278.46,220.05 281.20,222.98 281.20,285.10 286.68,285.10 286.68,285.10 286.68,209.75 289.42,219.50 292.15,222.25 292.15,285.10 297.63,285.10 297.63,285.10 297.63,210.51 300.37,220.66 303.10,223.52 303.10,285.10 308.58,285.10" fill="none" stroke="#ff7e7e" stroke-width="1.0" stroke-linejoin="round" clip-path="url(#cc)"/>
<polyline points="34.80,207.10 35.26,208.95 35.71,210.32 36.17,211.55 36.63,212.70 37.08,213.80 37.54,214.85 37.99,215.87 38.45,216.86 38.91,217.82 39.36,218.76 39.82,219.69 40.28,220.59" fill="none" stroke="#9090fc" stroke-width="0.9" stroke-linejoin="round" clip-path="url(#cc)"/>
<polyline points="45.75,207.88 46.21,212.25 46.66,215.38 47.12,217.62 47.58,219.23 48.03,220.38 48.49,221.21 48.95,221.80 49.40,222.22 49.86,222.53 50.31,222.74 50.77,222.90 51.23,223.01" fill="none" stroke="#9090fc" stroke-width="0.9" stroke-linejoin="round" clip-path="url(#cc)"/>
<polyline points="56.70,209.05 57.16,213.22 57.61,216.20 58.07,218.34 58.53,219.87 58.98,220.97 59.44,221.76 59.90,222.32 60.35,222.73 60.81,223.02 61.27,223.22 61.72,223.37 62.18,223.48" fill="none" stroke="#9090fc" stroke-width="0.9" stroke-linejoin="round" clip-path="url(#cc)"/>
<polyline points="67.65,212.87 68.11,215.94 68.57,218.13 69.02,219.70 69.48,220.83 69.94,221.64 70.39,222.22 70.85,222.63 71.30,222.93 71.76,223.14 72.22,223.29 72.67,223.40 73.13,223.48" fill="none" stroke="#9090fc" stroke-width="0.9" stroke-linejoin="round" clip-path="url(#cc)"/>
<polyline points="78.60,215.91 79.06,218.44 79.52,220.24 79.97,221.54 80.43,222.47 80.89,223.13 81.34,223.61 81.80,223.95 82.26,224.19 82.71,224.37 83.17,224.50 83.62,224.59 84.08,224.65" fill="none" stroke="#9090fc" stroke-width="0.9" stroke-linejoin="round" clip-path="url(#cc)"/>
<polyline points="89.56,218.80 90.01,221.16 90.47,222.86 90.92,224.07 91.38,224.94 91.84,225.57 92.29,226.01 92.75,226.33 93.21,226.56 93.66,226.73 94.12,226.85 94.58,226.93 95.03,226.99" fill="none" stroke="#9090fc" stroke-width="0.9" stroke-linejoin="round" clip-path="url(#cc)"/>
<polyline points="100.51,222.70 100.96,223.94 101.42,224.83 101.88,225.46 102.33,225.92 102.79,226.24 103.25,226.48 103.70,226.65 104.16,226.77 104.61,226.85 105.07,226.91 105.53,226.96 105.98,226.99" fill="none" stroke="#9090fc" stroke-width="0.9" stroke-linejoin="round" clip-path="url(#cc)"/>
<polyline points="111.46,225.27 111.91,227.17 112.37,228.52 112.83,229.49 113.28,230.19 113.74,230.69 114.20,231.04 114.65,231.30 115.11,231.48 115.57,231.62 116.02,231.71 116.48,231.78 116.93,231.83" fill="none" stroke="#9090fc" stroke-width="0.9" stroke-linejoin="round" clip-path="url(#cc)"/>
<polyline points="122.41,228.55 122.87,229.37 123.32,230.17 123.78,230.93 124.23,231.67 124.69,232.38 125.15,233.05 125.60,233.69 126.06,234.28 126.52,234.82 126.97,235.30 127.43,235.70 127.89,235.96" fill="none" stroke="#9090fc" stroke-width="0.9" stroke-linejoin="round" clip-path="url(#cc)"/>
<polyline points="133.36,232.53 133.82,233.20 134.27,233.86 134.73,234.49 135.19,235.09 135.64,235.67 136.10,236.23 136.55,236.75 137.01,237.23 137.47,237.68 137.92,238.07 138.38,238.40 138.84,238.61" fill="none" stroke="#9090fc" stroke-width="0.9" stroke-linejoin="round" clip-path="url(#cc)"/>
<polyline points="144.31,234.24 144.77,235.08 145.22,235.89 145.68,236.68 146.14,237.43 146.59,238.16 147.05,238.84 147.51,239.49 147.96,240.09 148.42,240.65 148.88,241.14 149.33,241.55 149.79,241.81" fill="none" stroke="#9090fc" stroke-width="0.9" stroke-linejoin="round" clip-path="url(#cc)"/>
<polyline points="155.26,235.18 155.72,235.66 156.18,236.12 156.63,236.56 157.09,236.99 157.54,237.40 158.00,237.79 158.46,238.15 158.91,238.50 159.37,238.81 159.83,239.09 160.28,239.32 160.74,239.47" fill="none" stroke="#9090fc" stroke-width="0.9" stroke-linejoin="round" clip-path="url(#cc)"/>
<polyline points="166.21,237.99 166.67,238.60 167.13,239.20 167.58,239.77 168.04,240.32 168.50,240.85 168.95,241.35 169.41,241.83 169.86,242.27 170.32,242.67 170.78,243.03 171.23,243.33 171.69,243.53" fill="none" stroke="#9090fc" stroke-width="0.9" stroke-linejoin="round" clip-path="url(#cc)"/>
<polyline points="177.17,236.90 177.62,237.26 178.08,237.61 178.53,237.95 178.99,238.28 179.45,238.59 179.90,238.89 180.36,239.17 180.82,239.43 181.27,239.67 181.73,239.88 182.18,240.06 182.64,240.17" fill="none" stroke="#9090fc" stroke-width="0.9" stroke-linejoin="round" clip-path="url(#cc)"/>
<polyline points="188.12,240.87 188.57,241.41 189.03,241.93 189.49,242.43 189.94,242.91 190.40,243.37 190.85,243.81 191.31,244.23 191.77,244.61 192.22,244.97 192.68,245.28 193.14,245.54 193.59,245.71" fill="none" stroke="#9090fc" stroke-width="0.9" stroke-linejoin="round" clip-path="url(#cc)"/>
<polyline points="199.07,245.32 199.52,246.62 199.98,247.87 200.44,249.09 200.89,250.25 201.35,251.37 201.81,252.43 202.26,253.43 202.72,254.36 203.17,255.22 203.63,255.98 204.09,256.61 204.54,257.02" fill="none" stroke="#9090fc" stroke-width="0.9" stroke-linejoin="round" clip-path="url(#cc)"/>
<polyline points="210.02,246.10 210.48,247.40 210.93,248.65 211.39,249.87 211.84,251.03 212.30,252.15 212.76,253.21 213.21,254.21 213.67,255.14 214.13,256.00 214.58,256.76 215.04,257.39 215.49,257.80" fill="none" stroke="#9090fc" stroke-width="0.9" stroke-linejoin="round" clip-path="url(#cc)"/>
<polyline points="220.97,249.22 221.43,250.43 221.88,251.60 222.34,252.73 222.80,253.82 223.25,254.87 223.71,255.86 224.16,256.79 224.62,257.66 225.08,258.46 225.53,259.17 225.99,259.76 226.45,260.14" fill="none" stroke="#9090fc" stroke-width="0.9" stroke-linejoin="round" clip-path="url(#cc)"/>
<polyline points="231.92,251.56 232.38,252.60 232.83,253.60 233.29,254.57 233.75,255.51 234.20,256.40 234.66,257.25 235.12,258.05 235.57,258.80 236.03,259.48 236.48,260.09 236.94,260.59 237.40,260.92" fill="none" stroke="#9090fc" stroke-width="0.9" stroke-linejoin="round" clip-path="url(#cc)"/>
<polyline points="242.87,253.90 243.33,254.85 243.79,255.77 244.24,256.66 244.70,257.52 245.15,258.34 245.61,259.11 246.07,259.85 246.52,260.53 246.98,261.16 247.44,261.72 247.89,262.18 248.35,262.48" fill="none" stroke="#9090fc" stroke-width="0.9" stroke-linejoin="round" clip-path="url(#cc)"/>
<polyline points="253.82,256.24 254.28,257.10 254.74,257.94 255.19,258.75 255.65,259.53 256.11,260.27 256.56,260.98 257.02,261.65 257.47,262.27 257.93,262.84 258.39,263.35 258.84,263.77 259.30,264.04" fill="none" stroke="#9090fc" stroke-width="0.9" stroke-linejoin="round" clip-path="url(#cc)"/>
<polyline points="264.78,257.02 265.23,257.84 265.69,258.64 266.14,259.40 266.60,260.14 267.06,260.85 267.51,261.52 267.97,262.16 268.43,262.75 268.88,263.29 269.34,263.77 269.79,264.17 270.25,264.43" fill="none" stroke="#9090fc" stroke-width="0.9" stroke-linejoin="round" clip-path="url(#cc)"/>
<polyline points="275.73,258.58 276.18,259.36 276.64,260.11 277.10,260.84 277.55,261.54 278.01,262.21 278.46,262.85 278.92,263.45 279.38,264.01 279.83,264.52 280.29,264.98 280.75,265.35 281.20,265.60" fill="none" stroke="#9090fc" stroke-width="0.9" stroke-linejoin="round" clip-path="url(#cc)"/>
<polyline points="286.68,259.36 287.13,260.14 287.59,260.89 288.05,261.62 288.50,262.32 288.96,262.99 289.42,263.63 289.87,264.23 290.33,264.79 290.78,265.30 291.24,265.76 291.70,266.13 292.15,266.38" fill="none" stroke="#9090fc" stroke-width="0.9" stroke-linejoin="round" clip-path="url(#cc)"/>
<polyline points="297.63,264.04 298.09,264.56 298.54,265.06 299.00,265.55 299.45,266.01 299.91,266.46 300.37,266.88 300.82,267.28 301.28,267.66 301.74,268.00 302.19,268.30 302.65,268.56 303.10,268.72" fill="none" stroke="#9090fc" stroke-width="0.9" stroke-linejoin="round" clip-path="url(#cc)"/>
<rect x="35.00" y="184.30" width="268.50" height="124.10" fill="none" stroke="#333" stroke-width="1.0"/>
<line x1="218.70" y1="190.50" x2="234.30" y2="190.50" stroke="#9090fc" stroke-width="1.0" />
<text x="239.00" y="193.30" font-size="8.1" text-anchor="start" fill="#1e1e1e" font-weight="normal" >Control</text>
<line x1="218.70" y1="199.00" x2="234.30" y2="199.00" stroke="#ff7e7e" stroke-width="1.0" />
<text x="239.00" y="201.90" font-size="8.1" text-anchor="start" fill="#1e1e1e" font-weight="normal" >pero-Ph-Se-Cl</text>
<text x="58.70" y="302.80" font-size="8.1" text-anchor="start" fill="#1e1e1e" font-weight="normal" >Device structure: FTO/SnO<tspan font-size="5" dy="1.7">2</tspan><tspan dy="-1.7">/FAPbI</tspan><tspan font-size="5" dy="1.7">3</tspan><tspan dy="-1.7">/BDT-DPA-F/Au</tspan></text>
<text x="0.40" y="185.90" font-size="11" text-anchor="start" fill="#1e1e1e" font-weight="bold" stroke="#111" stroke-width="0.5">c</text>
<line x1="385.50" y1="308.50" x2="388.50" y2="308.50" stroke="#333" stroke-width="1.0" />
<text x="381.60" y="311.40" font-size="8.0" text-anchor="end" fill="#1e1e1e" font-weight="normal" >0</text>
<line x1="385.50" y1="285.78" x2="388.50" y2="285.78" stroke="#333" stroke-width="1.0" />
<text x="381.60" y="288.68" font-size="8.0" text-anchor="end" fill="#1e1e1e" font-weight="normal" >0.2</text>
<line x1="385.50" y1="263.06" x2="388.50" y2="263.06" stroke="#333" stroke-width="1.0" />
<text x="381.60" y="265.96" font-size="8.0" text-anchor="end" fill="#1e1e1e" font-weight="normal" >0.4</text>
<line x1="385.50" y1="240.34" x2="388.50" y2="240.34" stroke="#333" stroke-width="1.0" />
<text x="381.60" y="243.24" font-size="8.0" text-anchor="end" fill="#1e1e1e" font-weight="normal" >0.6</text>
<line x1="385.50" y1="217.62" x2="388.50" y2="217.62" stroke="#333" stroke-width="1.0" />
<text x="381.60" y="220.52" font-size="8.0" text-anchor="end" fill="#1e1e1e" font-weight="normal" >0.8</text>
<line x1="385.50" y1="194.90" x2="388.50" y2="194.90" stroke="#333" stroke-width="1.0" />
<text x="381.60" y="197.80" font-size="8.0" text-anchor="end" fill="#1e1e1e" font-weight="normal" >1.0</text>
<line x1="386.50" y1="297.14" x2="388.50" y2="297.14" stroke="#333" stroke-width="1.0" />
<line x1="386.50" y1="274.42" x2="388.50" y2="274.42" stroke="#333" stroke-width="1.0" />
<line x1="386.50" y1="251.70" x2="388.50" y2="251.70" stroke="#333" stroke-width="1.0" />
<line x1="386.50" y1="228.98" x2="388.50" y2="228.98" stroke="#333" stroke-width="1.0" />
<line x1="386.50" y1="206.26" x2="388.50" y2="206.26" stroke="#333" stroke-width="1.0" />
<text transform="translate(363.00 246.80) rotate(-90) scale(1.000 1)" font-size="7.9" text-anchor="middle" fill="#1e1e1e">Normalized PCE</text>
<rect x="403.00" y="231.25" width="17.0" height="77.35" fill="#f0b030"/>
<rect x="406.90" y="245.20" width="17.0" height="63.40" fill="#8e9bfc"/>
<rect x="424.10" y="197.72" width="17.0" height="110.88" fill="#4edcc8"/>
<rect x="427.90" y="203.01" width="17.0" height="105.59" fill="#fa6e6e"/>
<path d="M406.50,228.89H416.50M411.50,228.89V235.07M406.50,235.07H416.50" stroke="#f06a10" stroke-opacity="0.9" stroke-width="1" fill="none"/>
<path d="M410.40,241.82H420.40M415.40,241.82V249.25M410.40,249.25H420.40" stroke="#3a4cf0" stroke-opacity="0.75" stroke-width="1" fill="none"/>
<path d="M427.60,195.59H437.60M432.60,195.59V199.52M427.60,199.52H437.60" stroke="#18d070" stroke-opacity="0.8" stroke-width="1" fill="none"/>
<path d="M431.40,201.44H441.40M436.40,201.44V205.49M431.40,205.49H441.40" stroke="#ff1414" stroke-opacity="0.8" stroke-width="1" fill="none"/>
<line x1="425.40" y1="308.60" x2="425.40" y2="311.60" stroke="#333" stroke-width="1.0" />
<rect x="477.90" y="247.34" width="17.0" height="61.26" fill="#f0b030"/>
<rect x="481.40" y="272.88" width="17.0" height="35.73" fill="#8e9bfc"/>
<rect x="499.00" y="195.36" width="17.0" height="113.24" fill="#4edcc8"/>
<rect x="502.40" y="202.11" width="17.0" height="106.49" fill="#fa6e6e"/>
<path d="M481.40,244.07H491.40M486.40,244.07V251.39M481.40,251.39H491.40" stroke="#f06a10" stroke-opacity="0.9" stroke-width="1" fill="none"/>
<path d="M484.90,269.39H494.90M489.90,269.39V276.47M484.90,276.47H494.90" stroke="#3a4cf0" stroke-opacity="0.75" stroke-width="1" fill="none"/>
<path d="M502.50,194.01H512.50M507.50,194.01V197.39M502.50,197.39H512.50" stroke="#18d070" stroke-opacity="0.8" stroke-width="1" fill="none"/>
<path d="M505.90,200.43H515.90M510.90,200.43V204.47M505.90,204.47H515.90" stroke="#ff1414" stroke-opacity="0.8" stroke-width="1" fill="none"/>
<line x1="500.60" y1="308.60" x2="500.60" y2="311.60" stroke="#333" stroke-width="1.0" />
<rect x="552.60" y="231.59" width="17.0" height="77.01" fill="#f0b030"/>
<rect x="556.00" y="268.26" width="17.0" height="40.34" fill="#8e9bfc"/>
<rect x="573.80" y="195.14" width="17.0" height="113.46" fill="#4edcc8"/>
<rect x="577.10" y="203.01" width="17.0" height="105.59" fill="#fa6e6e"/>
<path d="M556.10,228.32H566.10M561.10,228.32V235.19M556.10,235.19H566.10" stroke="#f06a10" stroke-opacity="0.9" stroke-width="1" fill="none"/>
<path d="M559.50,264.55H569.50M564.50,264.55V271.64M559.50,271.64H569.50" stroke="#3a4cf0" stroke-opacity="0.75" stroke-width="1" fill="none"/>
<path d="M577.30,193.45H587.30M582.30,193.45V197.39M577.30,197.39H587.30" stroke="#18d070" stroke-opacity="0.8" stroke-width="1" fill="none"/>
<path d="M580.60,201.21H590.60M585.60,201.21V205.49M580.60,205.49H590.60" stroke="#ff1414" stroke-opacity="0.8" stroke-width="1" fill="none"/>
<line x1="575.00" y1="308.60" x2="575.00" y2="311.60" stroke="#333" stroke-width="1.0" />
<line x1="462.80" y1="308.60" x2="462.80" y2="310.60" stroke="#333" stroke-width="1.0" />
<line x1="537.50" y1="308.60" x2="537.50" y2="310.60" stroke="#333" stroke-width="1.0" />
<rect x="388.50" y="183.60" width="223.80" height="125.00" fill="none" stroke="#333" stroke-width="1.0"/>
<text x="426.60" y="322.20" font-size="8.0" text-anchor="middle" fill="#1e1e1e" font-weight="normal" >FAPbI<tspan font-size="4.8" dy="1.8">3</tspan></text>
<text x="499.80" y="322.30" font-size="8.0" text-anchor="middle" fill="#1e1e1e" font-weight="normal" >FA<tspan font-size="4.8" dy="1.8">0.92</tspan><tspan dy="-1.8">MA</tspan><tspan font-size="4.8" dy="1.8">0.08</tspan><tspan dy="-1.8">PbI</tspan><tspan font-size="4.8" dy="1.8">3</tspan></text>
<text x="583.20" y="322.00" font-size="8.0" text-anchor="middle" fill="#1e1e1e" font-weight="normal" >Cs<tspan font-size="4.8" dy="1.8">0.05</tspan><tspan dy="-1.8">FA</tspan><tspan font-size="4.8" dy="1.8">0.7</tspan><tspan dy="-1.8">MA</tspan><tspan font-size="4.8" dy="1.8">0.25</tspan><tspan dy="-1.8">PbI</tspan><tspan font-size="4.8" dy="1.8">2.6</tspan><tspan dy="-1.8">Br</tspan><tspan font-size="4.8" dy="1.8">0.4</tspan></text>
<text x="613.60" y="204.10" font-size="8.1" text-anchor="start" fill="#1e1e1e" font-weight="normal" >Continuous mode</text>
<rect x="614.6" y="208.8" width="14.5" height="6.7" fill="#f0b030"/>
<text x="633.80" y="214.70" font-size="8.1" text-anchor="start" fill="#1e1e1e" font-weight="normal" >Control</text>
<rect x="614.6" y="220.2" width="14.5" height="6.7" fill="#4edcc8"/>
<text x="633.80" y="226.10" font-size="8.1" text-anchor="start" fill="#1e1e1e" font-weight="normal" >pero-Ph-Se-Cl</text>
<text x="614.90" y="241.10" font-size="8.1" text-anchor="start" fill="#1e1e1e" font-weight="normal" >Cycling mode</text>
<rect x="614.6" y="245.4" width="14.5" height="6.7" fill="#8e9bfc"/>
<text x="633.80" y="251.30" font-size="8.1" text-anchor="start" fill="#1e1e1e" font-weight="normal" >Control</text>
<rect x="614.6" y="255.4" width="14.5" height="6.7" fill="#fa6e6e"/>
<text x="633.80" y="261.90" font-size="8.1" text-anchor="start" fill="#1e1e1e" font-weight="normal" >pero-Ph-Se-Cl</text>
<text x="354.40" y="185.80" font-size="11" text-anchor="start" fill="#1e1e1e" font-weight="bold" stroke="#111" stroke-width="0.5">d</text>
</svg>
</body></html>
